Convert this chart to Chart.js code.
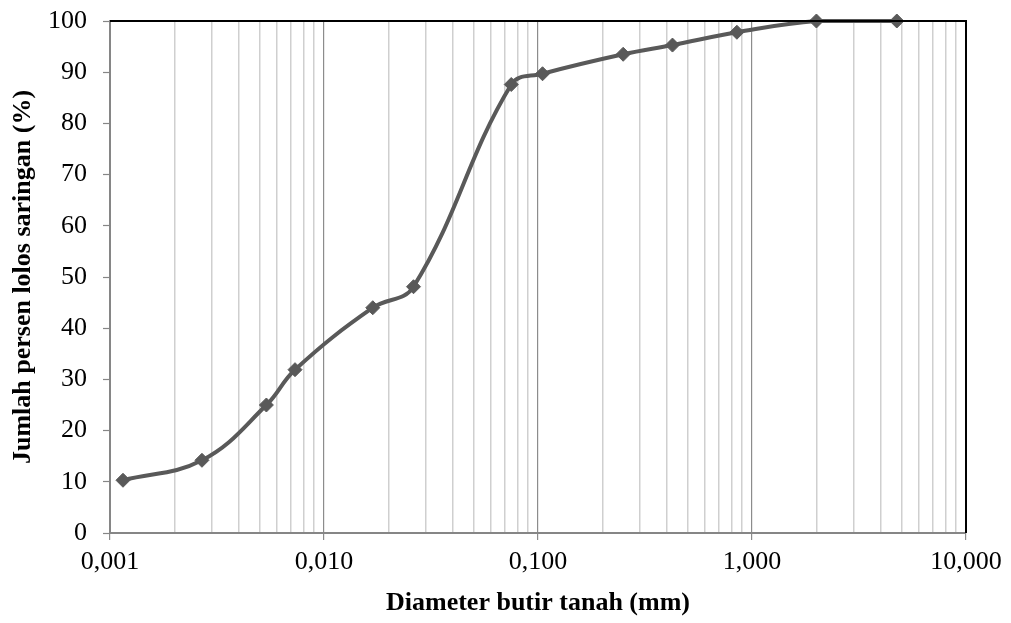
<!DOCTYPE html>
<html>
<head>
<meta charset="utf-8">
<script src="https://cdn.jsdelivr.net/npm/chart.js@4/dist/chart.umd.min.js"></script>
<style>
    body { margin: 0; background: #ffffff; }
    canvas { display: block; background: #ffffff; }
</style>
</head>
<body>
<canvas id="gradationChart" width="1011" height="623"></canvas>
<script>
// Grain size data (sieve + hydrometer)
const diameters = [0.00115, 0.00269, 0.00538, 0.00732, 0.0169, 0.0262, 0.075, 0.105, 0.25, 0.425, 0.85, 2.0, 4.75];
const percentPassing = [10.3, 14.2, 25.0, 31.9, 44.0, 48.1, 87.6, 89.7, 93.5, 95.3, 97.8, 100, 100];

const xDecades = [0.001, 0.01, 0.1, 1, 10];
const xTickLabels = ['0,001', '0,010', '0,100', '1,000', '10,000'];
const yTicks = [0, 10, 20, 30, 40, 50, 60, 70, 80, 90, 100];

const serif = "'Liberation Serif', 'Times New Roman', serif";
const lineColor = '#595959';

function isDecade(value) {
    const l = Math.log10(value);
    return Math.abs(l - Math.round(l)) < 1e-6;
}

// top and right edges of the plot are black
const frameLines = {
    id: 'frameLines',
    afterDatasetsDraw(chart) {
        const { ctx, chartArea } = chart;
        ctx.save();
        ctx.strokeStyle = '#000000';
        ctx.lineWidth = 2;
        ctx.beginPath();
        ctx.moveTo(chartArea.left, chartArea.top);
        ctx.lineTo(chartArea.right, chartArea.top);
        ctx.lineTo(chartArea.right, chartArea.bottom);
        ctx.stroke();
        ctx.restore();
    }
};

const ctx = document.getElementById('gradationChart').getContext('2d');
const gradationChart = new Chart(ctx, {
    type: 'line',
    data: {
        datasets: [{
            label: 'Gradasi',
            data: diameters.map((d, i) => ({ x: d, y: percentPassing[i] })),
            borderColor: lineColor,
            backgroundColor: lineColor,
            borderWidth: 4,
            pointStyle: 'rectRot',
            pointRadius: 7,
            pointHoverRadius: 7,
            pointBackgroundColor: lineColor,
            pointBorderColor: lineColor,
            pointBorderWidth: 1,
            tension: 0.4,
            clip: false
        }]
    },
    options: {
        responsive: false,
        animation: false,
        events: [],
        layout: {
            padding: { top: 21, right: 45, left: 0, bottom: 0 }
        },
        plugins: {
            legend: { display: false },
            tooltip: { enabled: false }
        },
        scales: {
            x: {
                type: 'logarithmic',
                min: 0.001,
                max: 10,
                afterBuildTicks: scale => {
                    const ticks = [];
                    xDecades.slice(0, -1).forEach(d => {
                        for (let k = 1; k <= 9; k++) ticks.push({ value: d * k });
                    });
                    ticks.push({ value: xDecades[xDecades.length - 1] });
                    scale.ticks = ticks;
                },
                afterFit: scale => {
                    scale.height = 90;
                    scale.paddingLeft = 0;
                    scale.paddingRight = 0;
                },
                border: { color: '#868686', width: 2 },
                grid: {
                    color: c => (c.tick && isDecade(c.tick.value)) ? '#8c8c8c' : '#cfcfcf',
                    lineWidth: c => (c.tick && isDecade(c.tick.value)) ? 1.2 : 1.5,
                    tickColor: c => (c.tick && isDecade(c.tick.value)) ? '#8c8c8c' : 'rgba(0,0,0,0)',
                    tickLength: 7,
                    tickWidth: 1.2
                },
                ticks: {
                    autoSkip: false,
                    maxRotation: 0,
                    padding: 7,
                    color: '#000000',
                    font: { family: serif, size: 26 },
                    callback: value => {
                        if (!isDecade(value)) return '';
                        const i = Math.round(Math.log10(value)) + 3;
                        return xTickLabels[i];
                    }
                },
                title: {
                    display: true,
                    text: 'Diameter butir tanah (mm)',
                    color: '#000000',
                    font: { family: serif, size: 26, weight: 'bold' },
                    padding: { top: 0, bottom: 4 }
                }
            },
            y: {
                min: 0,
                max: 100,
                afterBuildTicks: scale => {
                    scale.ticks = yTicks.map(v => ({ value: v }));
                },
                afterFit: scale => {
                    scale.width = 110;
                    scale.paddingTop = 0;
                    scale.paddingBottom = 0;
                },
                border: { color: '#868686', width: 2 },
                grid: {
                    drawOnChartArea: false,
                    drawTicks: true,
                    tickLength: 7,
                    tickColor: '#868686',
                    tickWidth: 1.2
                },
                ticks: {
                    padding: 16,
                    color: '#000000',
                    font: { family: serif, size: 26 }
                },
                title: {
                    display: true,
                    text: 'Jumlah persen lolos saringan (%)',
                    color: '#000000',
                    font: { family: serif, size: 26, weight: 'bold' },
                    padding: { top: 8, bottom: 0 }
                }
            }
        }
    },
    plugins: [frameLines]
});
</script>
</body>
</html>
